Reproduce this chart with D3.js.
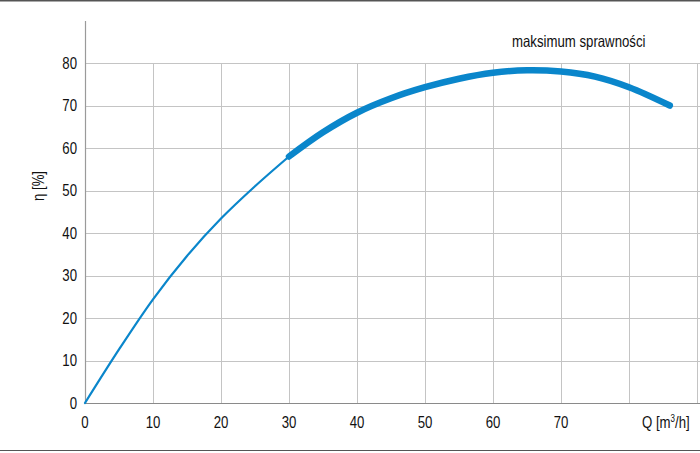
<!DOCTYPE html>
<html>
<head>
<meta charset="utf-8">
<script src="https://cdn.jsdelivr.net/npm/d3@7"></script>
<style>
  html, body { margin: 0; padding: 0; background: #fff; }
  svg { display: block; }
  text { font-family: "Liberation Sans", Arial, sans-serif; fill: #111; }
</style>
</head>
<body>
<svg id="chart" width="700" height="453"></svg>
<script>
// ---- data ----
const xTicks = [0, 10, 20, 30, 40, 50, 60, 70];
const yTicks = [0, 10, 20, 30, 40, 50, 60, 70, 80];
const gridX = [10, 20, 30, 40, 50, 60, 70, 80, 90];
const lowQ   = [0, 5, 10, 15, 20, 25, 30];
const lowEta = [0, 12.6, 24.4, 34.6, 43.4, 51.0, 58.0];
const highQ   = [30, 35, 40, 45, 50, 55, 60, 65, 70, 75, 80, 86];
const highEta = [58.0, 63.7, 68.3, 71.7, 74.3, 76.3, 77.7, 78.3, 78.0, 76.8, 74.3, 70.0];
const xLabel = "Q [m";
const yLabel = "η [%]";
const note = "maksimum sprawności";

const svg = d3.select("#chart");
const W = 700, H = 453;
const x = d3.scaleLinear().domain([0, 90]).range([85, 697]);
const y = d3.scaleLinear().domain([0, 80]).range([403, 63]);
const blue = "#0a86cb";
const SX = 0.8; // condensed look
const FS = 16.5;

// narrow text helper
function ntext(parent, tx, ty, rot) {
  const g = parent.append("g").attr("transform",
    `translate(${tx},${ty})` + (rot ? ` rotate(${rot})` : "") + ` scale(${SX},1)`);
  return g.append("text");
}

// frame lines
svg.append("line").attr("x1", 0).attr("x2", W).attr("y1", 0.75).attr("y2", 0.75)
  .attr("stroke", "#555").attr("stroke-width", 1.5);
svg.append("line").attr("x1", 0).attr("x2", W).attr("y1", 450.5).attr("y2", 450.5)
  .attr("stroke", "#555").attr("stroke-width", 1.2);

// horizontal grid
svg.append("g").selectAll("line").data(yTicks.filter(d => d > 0)).join("line")
  .attr("x1", x(0)).attr("x2", W)
  .attr("y1", d => Math.round(y(d)) + 0.5).attr("y2", d => Math.round(y(d)) + 0.5)
  .attr("stroke", "#c4c4c4").attr("stroke-width", 1);

// vertical grid
svg.append("g").selectAll("line").data(gridX).join("line")
  .attr("x1", d => Math.round(x(d)) + 0.5).attr("x2", d => Math.round(x(d)) + 0.5)
  .attr("y1", y(80)).attr("y2", y(0))
  .attr("stroke", "#c4c4c4").attr("stroke-width", 1);

// axes lines
svg.append("line").attr("x1", x(0) + 0.5).attr("x2", x(0) + 0.5).attr("y1", 21).attr("y2", y(0))
  .attr("stroke", "#9a9a9a").attr("stroke-width", 1.2);
svg.append("line").attr("x1", x(0)).attr("x2", W).attr("y1", y(0) + 0.5).attr("y2", y(0) + 0.5)
  .attr("stroke", "#8a8a8a").attr("stroke-width", 1.2);

// y tick labels
const yg = svg.append("g");
yTicks.forEach(d => {
  ntext(yg, 77, y(d)).attr("dy", "0.36em").attr("text-anchor", "end")
    .attr("font-size", FS).text(d);
});

// x tick labels
const xg = svg.append("g");
xTicks.forEach(d => {
  ntext(xg, x(d), 428).attr("text-anchor", "middle").attr("font-size", FS).text(d);
});

// x axis title
const xt = ntext(svg, 642, 428).attr("font-size", FS);
xt.append("tspan").text(xLabel);
xt.append("tspan").attr("font-size", 10).attr("dy", -6).text("3");
xt.append("tspan").attr("dy", 6).text("/h]");

// y axis title
ntext(svg, 44, 186, -90).attr("text-anchor", "middle").attr("font-size", FS).text(yLabel);

// note
ntext(svg, 512, 47).attr("font-size", FS).text(note);

// curves
const line = d3.line().x(d => x(d[0])).y(d => y(d[1])).curve(d3.curveCatmullRom.alpha(0.5));
svg.append("path").datum(lowQ.map((q, i) => [q, lowEta[i]]))
  .attr("d", line).attr("fill", "none").attr("stroke", blue)
  .attr("stroke-width", 2.2).attr("stroke-linecap", "round");
svg.append("path").datum(highQ.map((q, i) => [q, highEta[i]]))
  .attr("d", line).attr("fill", "none").attr("stroke", blue)
  .attr("stroke-width", 6.5).attr("stroke-linecap", "round");
</script>
</body>
</html>
